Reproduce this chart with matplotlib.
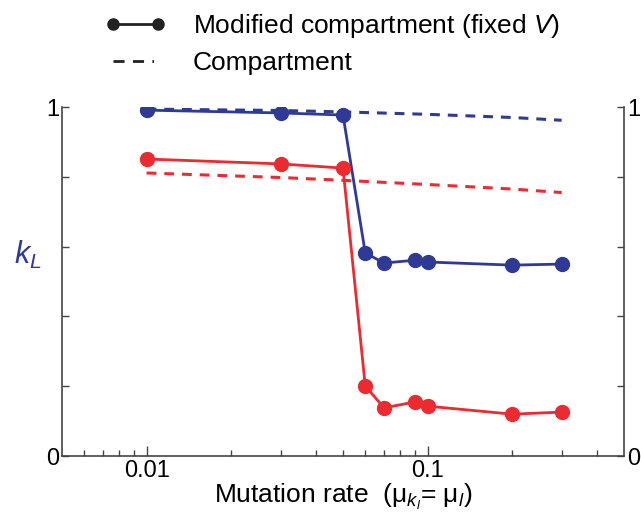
import matplotlib
matplotlib.use("Agg")
import matplotlib.pyplot as plt
from matplotlib.lines import Line2D
from matplotlib.ticker import FixedLocator, NullFormatter

plt.rcParams['font.family'] = ['Liberation Sans', 'DejaVu Sans']
plt.rcParams['mathtext.fontset'] = 'custom'
plt.rcParams['mathtext.rm'] = 'Liberation Sans'
plt.rcParams['mathtext.it'] = 'Liberation Sans:italic'

# data
rates = [0.01, 0.03, 0.05, 0.06, 0.07, 0.09, 0.1, 0.2, 0.3]
mod_blue = [0.991, 0.983, 0.977, 0.582, 0.553, 0.561, 0.556, 0.547, 0.550]
mod_red = [0.851, 0.837, 0.825, 0.201, 0.138, 0.155, 0.143, 0.120, 0.126]

comp_rates = [0.01, 0.03, 0.05, 0.1, 0.2, 0.3]
comp_blue = [0.994, 0.990, 0.986, 0.979, 0.970, 0.962]
comp_red = [0.811, 0.798, 0.790, 0.778, 0.765, 0.755]

blue = '#2E3A96'
red = '#EC2A30'

fig = plt.figure(figsize=(6.41, 5.13), dpi=100)
ax = fig.add_axes([0.0967, 0.111, 0.8768, 0.6804])

ax.plot(comp_rates, comp_blue, color=blue, lw=2.2, ls=(0, (3.2, 2.6)))
ax.plot(comp_rates, comp_red, color=red, lw=2.2, ls=(0, (3.2, 2.6)))
ax.plot(rates, mod_blue, color=blue, lw=2.0, marker='o', ms=10)
ax.plot(rates, mod_red, color=red, lw=2.0, marker='o', ms=10)

ax.set_xscale('log')
ax.set_xlim(0.005, 0.5)
ax.set_ylim(0, 1)

ax.xaxis.set_major_locator(FixedLocator([0.01, 0.1]))
ax.xaxis.set_major_formatter(matplotlib.ticker.FixedFormatter(['0.01', '0.1']))
minors = [0.006, 0.007, 0.008, 0.009] + [i / 100 for i in range(2, 10)] + [0.2, 0.3, 0.4]
ax.xaxis.set_minor_locator(FixedLocator(minors))
ax.xaxis.set_minor_formatter(NullFormatter())

ax.set_yticks([0, 0.2, 0.4, 0.6, 0.8, 1])
ax.set_yticklabels(['0', '', '', '', '', '1'])

ax.tick_params(which='major', direction='in', length=7, width=1, labelsize=17,
               right=True, labelright=True, pad=3, color='#444444')
ax.tick_params(which='minor', direction='in', length=4, width=1, color='#444444')
ax.tick_params(axis='y', length=5, pad=2)
for s in ax.spines.values():
    s.set_linewidth(1.2)
    s.set_color('#444444')
ax.spines['top'].set_visible(False)

ax.set_xlabel('Mutation rate  (μ$_{k_l}$= μ$_l$)', fontsize=19, labelpad=0)
ax.set_ylabel(r'$k_L$', fontsize=22, color=blue, rotation=0)
ax.yaxis.set_label_coords(-0.06, 0.53)

handles = [
    Line2D([], [], color='#222222', lw=2, marker='o', ms=8),
    Line2D([], [], color='#222222', lw=2, ls=(0, (4, 3, 4, 3, 0.6, 40))),
]
labels = ['Modified compartment (fixed $V$)', 'Compartment']
fig.legend(handles, labels, loc='upper left', bbox_to_anchor=(0.148, 0.997),
           frameon=False, fontsize=19, numpoints=2, handlelength=2.3,
           handletextpad=1.0, labelspacing=0.42, borderaxespad=0)

fig.savefig('out.png', dpi=100)
